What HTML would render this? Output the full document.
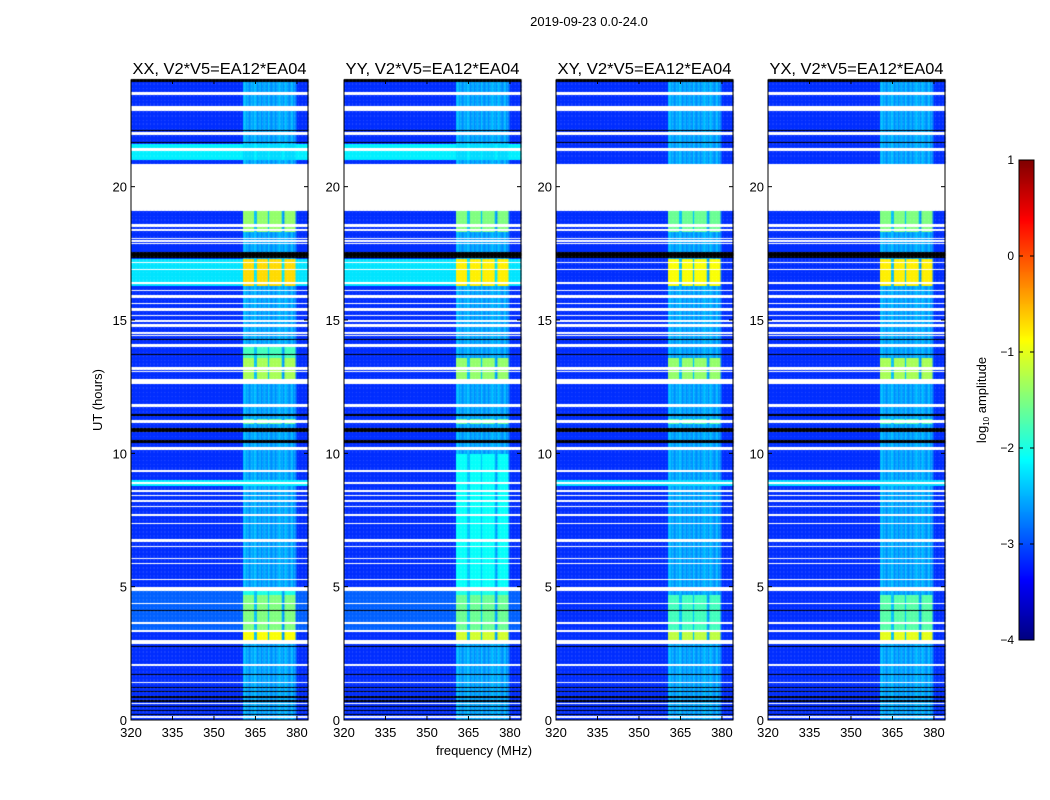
<!DOCTYPE html>
<html><head><meta charset="utf-8"><style>
html,body{margin:0;padding:0;background:#fff;width:1050px;height:800px;overflow:hidden;font-family:"Liberation Sans",sans-serif}
#wrap{position:relative;width:1050px;height:800px}
canvas{position:absolute;left:0;top:0}
svg{position:absolute;left:0;top:0}
</style></head><body>
<div id="wrap">
<canvas id="cv" width="1050" height="800"></canvas>
<svg id="sv" width="1050" height="800"></svg>
</div>
<script>
// ---- data ----
const panelTitles=["XX, V2*V5=EA12*EA04","YY, V2*V5=EA12*EA04","XY, V2*V5=EA12*EA04","YX, V2*V5=EA12*EA04"];
const xTicks=[320,335,350,365,380];
const yTicks=[0,5,10,15,20];
const cbTicks=[1,0,-1,-2,-3,-4];
const freqStart=320, chanWidth=0.5, nChan=128, tStep=0.05, nRows=480;
// per-channel baseline log amplitude (0.5 MHz channels, 320..384 MHz)
const chanLevel=[
-3.15,-3.15,-3.15,-3.15,-3.15,-3.15,-3.15,-3.15,-3.15,-3.15,-3.15,-3.15,-3.15,-3.15,-3.15,-3.15,
-3.15,-3.15,-3.15,-3.15,-3.15,-3.15,-3.15,-3.15,-3.15,-3.15,-3.15,-3.15,-3.15,-3.15,-3.15,-3.15,
-3.15,-3.15,-3.15,-3.15,-3.15,-3.15,-3.15,-3.15,-3.15,-3.15,-3.15,-3.15,-3.15,-3.15,-3.15,-3.15,
-3.15,-3.15,-3.15,-3.15,-3.15,-3.15,-3.15,-3.15,-3.15,-3.15,-3.15,-3.15,-3.15,-3.15,-3.15,-3.15,
-3.15,-3.15,-3.15,-3.15,-3.15,-3.15,-3.15,-3.15,-3.15,-3.15,-3.15,-3.15,-3.15,-3.15,-3.15,-3.15,
-3.15,-2.5,-2.4,-2.6,-2.5,-2.7,-2.6,-2.5,-2.6,-2.4,-2.5,-2.7,-2.6,-2.5,-2.7,-2.6,
-2.5,-2.6,-2.7,-2.4,-2.6,-2.7,-2.6,-2.5,-2.7,-2.6,-2.5,-2.4,-2.6,-2.5,-2.7,-2.4,
-2.5,-2.6,-2.7,-2.6,-2.4,-2.7,-2.6,-2.9,-3.15,-3.15,-3.15,-3.15,-3.15,-3.15,-3.15,-3.15];
const blockMask=[
0,0,0,0,0,0,0,0,0,0,0,0,0,0,0,0,0,0,0,0,0,0,0,0,0,0,0,0,0,0,0,0,
0,0,0,0,0,0,0,0,0,0,0,0,0,0,0,0,0,0,0,0,0,0,0,0,0,0,0,0,0,0,0,0,
0,0,0,0,0,0,0,0,0,0,0,0,0,0,0,0,0,1,1,1,1,1,1,1,1,0,0,1,1,1,1,1,
1,1,1,0,1,1,1,1,1,1,1,1,1,0,0,1,1,1,1,1,1,1,1,0,0,0,0,0,0,0,0,0];
// bright segments: [start hour, end hour, in-band level, out-of-band level or null]
const segXX=[[3.0,3.3,-0.9,null],[3.3,4.7,-1.5,-2.9],[4.7,4.9,-2.0,-2.9],[11.1,11.3,-1.6,null],[12.8,13.6,-1.3,null],[13.6,14.0,-1.8,null],[16.3,17.3,-0.7,-2.25],[18.3,19.1,-1.4,null],[21.0,21.6,-2.3,-2.2],[8.8,9.0,-2.2,-2.2]];
const segYY=[[3.0,3.3,-1.1,null],[3.3,4.7,-1.6,-2.9],[4.7,4.9,-2.0,-2.9],[5.0,10.0,-2.1,null],[11.1,11.3,-1.6,null],[12.8,13.6,-1.4,null],[16.3,17.3,-0.8,-2.25],[18.3,19.1,-1.5,null],[21.0,21.6,-2.3,-2.2],[8.8,9.0,-2.2,-2.2]];
const segXY=[[3.0,3.3,-1.2,null],[3.3,4.7,-1.8,null],[11.1,11.3,-1.7,null],[12.8,13.6,-1.4,null],[16.3,17.3,-0.9,null],[18.3,19.1,-1.6,null],[8.8,9.0,-2.3,-2.3]];
const segYX=[[3.0,3.3,-1.0,null],[3.3,4.7,-1.7,null],[11.1,11.3,-1.7,null],[12.8,13.6,-1.3,null],[16.3,17.3,-0.8,null],[18.3,19.1,-1.5,null],[8.8,9.0,-2.3,-2.3]];
const panelSegs=[segXX,segYY,segXY,segYX];
// flagged rows (white) and dropout rows (black): [start, end] hours
const whiteRows=[[23.45,23.55],[22.85,23.05],[21.95,22.05],[21.35,21.45],[19.1,20.85],[18.5,18.6],[18.35,18.45],[18.05,18.1],[17.95,18.0],[17.85,17.9],[17.15,17.2],[16.9,16.95],[16.35,16.45],[16.1,16.15],[15.85,15.95],[15.6,15.65],[15.35,15.45],[15.15,15.2],[14.95,15.0],[14.75,14.85],[14.5,14.55],[14.4,14.45],[14.0,14.1],[13.15,13.25],[13.05,13.1],[12.6,12.8],[11.75,11.85],[11.15,11.25],[10.15,10.25],[9.3,9.4],[8.85,8.95],[8.55,8.65],[8.4,8.45],[8.2,8.25],[8.0,8.05],[7.65,7.75],[7.35,7.4],[6.7,6.8],[6.5,6.55],[6.05,6.1],[5.85,5.9],[5.25,5.3],[4.85,5.0],[4.35,4.4],[3.6,3.7],[3.3,3.4],[2.85,3.0],[2.05,2.1],[1.4,1.45],[0.6,0.65],[0.1,0.15]];
const blackRows=[[23.95,24.0],[22.1,22.15],[21.65,21.7],[17.35,17.55],[14.25,14.3],[13.7,13.75],[11.4,11.5],[10.8,10.95],[10.4,10.5],[4.1,4.15],[2.75,2.8],[1.7,1.75],[1.2,1.25],[1.05,1.1],[0.85,0.9],[0.7,0.75],[0.5,0.55],[0.35,0.4],[0.2,0.25]];
// ---- layout ----
const panelLeft=[131,344,556,768], pw=177, ptop=80, ph=640;
const fMin=320,fMax=384,tMin=0,tMax=24;
function xs(i,f){return panelLeft[i]+(f-fMin)/(fMax-fMin)*pw;}
function ys(t){return ptop+ph-(t-tMin)/(tMax-tMin)*ph;}
function jet(v){
 let x=Math.max(0,Math.min(1,(v+4)/5));
 function c(a){return Math.max(0,Math.min(1,a));}
 let r=c(Math.min(4*x-1.5,-4*x+4.5)),g=c(Math.min(4*x-0.5,-4*x+3.5)),b=c(Math.min(4*x+0.5,-4*x+2.5));
 return `rgb(${Math.round(r*255)},${Math.round(g*255)},${Math.round(b*255)})`;
}
function inRanges(t,arr){for(const r of arr){if(t>=r[0]&&t<r[1])return true;}return false;}
const cv=document.getElementById('cv'),ctx=cv.getContext('2d');
for(let p=0;p<4;p++){
 for(let r=0;r<nRows;r++){
  const t0=r*tStep,t1=t0+tStep,tc=t0+tStep/2;
  const y0=ys(t1),y1=ys(t0);
  let mode=0;
  if(inRanges(tc,whiteRows))mode=1;else if(inRanges(tc,blackRows))mode=2;
  let seg=null;for(const s of panelSegs[p]){if(tc>=s[0]&&tc<s[1]){seg=s;break;}}
  for(let c=0;c<nChan;c++){
   const f=freqStart+c*chanWidth;
   const x0=xs(p,f),x1=xs(p,f+chanWidth);
   let col;
   if(mode===1)col='#ffffff';
   else if(mode===2)col='#000000';
   else{
    let v=chanLevel[c];
    if(seg){
     if(blockMask[c])v=seg[2];
     else if(seg[3]!==null && chanLevel[c]<-3)v=seg[3];
     else if(seg[3]!==null)v=Math.max(v,seg[3]);
    }
    col=jet(v);
   }
   ctx.fillStyle=col;
   ctx.fillRect(x0,Math.floor(y0),x1-x0+0.3,Math.ceil(y1)-Math.floor(y0));
  }
 }
}
const cbx=1019,cbw=15,cbTop=160,cbH=480;
for(let i=0;i<cbH;i++){const v=1-5*(i+0.5)/cbH;ctx.fillStyle=jet(v);ctx.fillRect(cbx,cbTop+i,cbw,1);}
// ---- svg axes ----
const sv=document.getElementById('sv');const NS='http://www.w3.org/2000/svg';
function mk(tag,attrs,name,parent){const e=document.createElementNS(NS,tag);for(const k in attrs)e.setAttribute(k,attrs[k]);
 
 
 (parent||sv).appendChild(e);return e;}
function txt(x,y,s,size,anchor,name,extra){const e=mk('text',Object.assign({x:x,y:y,'font-size':size,'text-anchor':anchor||'middle','font-family':'Liberation Sans, sans-serif',fill:'#000'},extra||{}),name);e.textContent=s;return e;}
txt(589,26,"2019-09-23 0.0-24.0",13,'middle','figure-title');
for(let p=0;p<4;p++){
 const L=panelLeft[p];
 const g=mk('g',{},'panel-'+(p+1));
 mk('rect',{x:L,y:ptop,width:pw,height:ph,fill:'none',stroke:'#000','stroke-width':1},'plot-frame',g);
 txt(L+pw/2,74,panelTitles[p],16,'middle','panel-title',{textLength:174,lengthAdjust:'spacingAndGlyphs'});
 for(const f of xTicks){const x=xs(p,f);
  mk('line',{x1:x,y1:ptop+ph,x2:x,y2:ptop+ph-4,stroke:'#000'},'x-tick',g);
  mk('line',{x1:x,y1:ptop,x2:x,y2:ptop+4,stroke:'#000'},'x-tick-top',g);
  txt(x,737,String(f),13,'middle','x-tick-label');}
 for(const t of yTicks){const y=ys(t);
  mk('line',{x1:L,y1:y,x2:L+4,y2:y,stroke:'#000'},'y-tick',g);
  mk('line',{x1:L+pw,y1:y,x2:L+pw-4,y2:y,stroke:'#000'},'y-tick-right',g);
  txt(L-4,y+5,String(t),13,'end','y-tick-label');}
}
txt(484,755,"frequency (MHz)",13,'middle','x-axis-title');
txt(102,400,"UT (hours)",13,'middle','y-axis-title',{transform:'rotate(-90 102 400)'});
mk('rect',{x:cbx,y:cbTop,width:cbw,height:cbH,fill:'none',stroke:'#000'},'colorbar-frame');
for(const v of cbTicks){const y=cbTop+(1-v)/5*cbH;
 mk('line',{x1:cbx,y1:y,x2:cbx+4,y2:y,stroke:'#000'},'colorbar-tick');
 mk('line',{x1:cbx+cbw,y1:y,x2:cbx+cbw-4,y2:y,stroke:'#000'},'colorbar-tick-right');
 txt(1014,y+4,v<0?'\u2212'+Math.abs(v):String(v),12,'end','colorbar-tick-label');}
const lab=mk('text',{x:986,y:400,'font-size':13,'text-anchor':'middle','font-family':'Liberation Sans, sans-serif',transform:'rotate(-90 986 400)'},'colorbar-label');
lab.innerHTML='log<tspan font-size="8" dy="3">10</tspan><tspan dy="-3"> amplitude</tspan>';
</script>
</body></html>
